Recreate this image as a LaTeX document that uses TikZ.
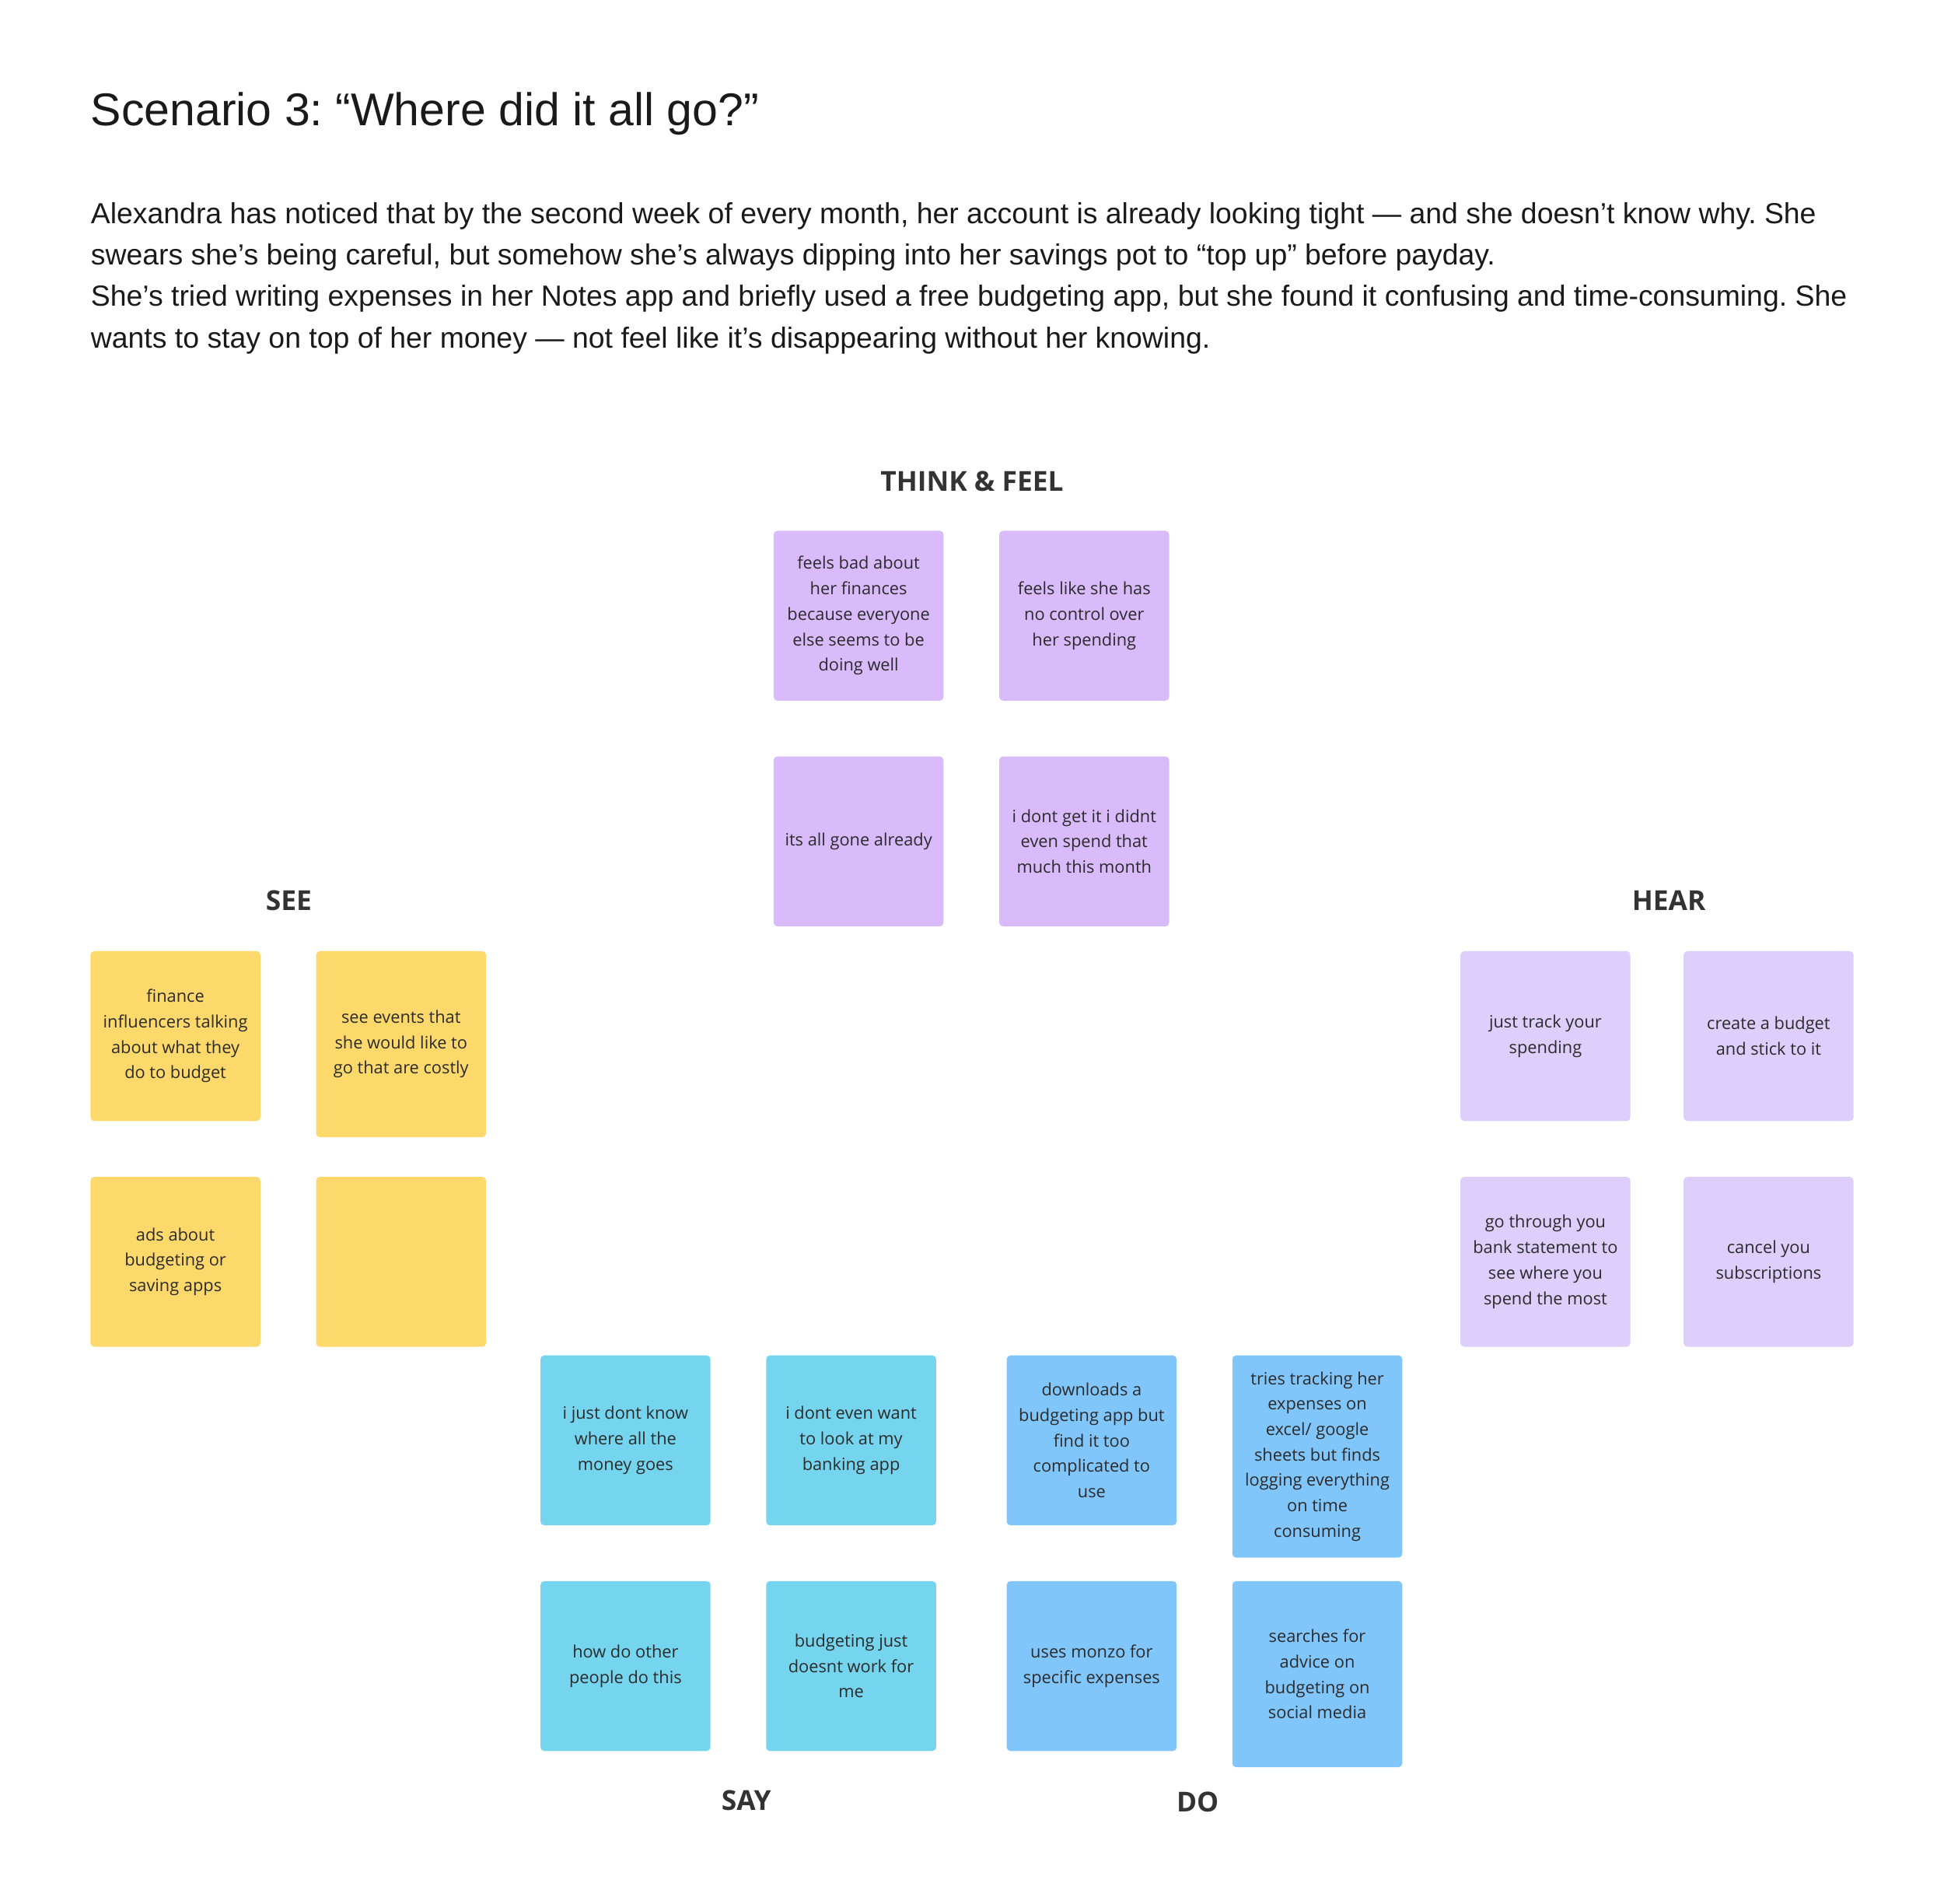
\documentclass[tikz,border=0pt]{standalone}
\usepackage{fontspec}
\setmainfont{Liberation Sans}
\newfontfamily\notefont{Open Sans}
\usetikzlibrary{positioning}
\frenchspacing
\definecolor{tfpurple}{HTML}{D9BAFB}
\definecolor{hearpurple}{HTML}{DDCEFB}
\definecolor{seeyellow}{HTML}{FDD96B}
\definecolor{saycyan}{HTML}{75D5EE}
\definecolor{doblue}{HTML}{80C6FB}
\definecolor{notetext}{HTML}{2B2B2B}
\definecolor{headgray}{HTML}{333333}
\definecolor{inktext}{HTML}{1A1A1A}

\begin{document}
\begin{tikzpicture}[
	x=0.6pt, y=-0.6pt,
	node distance=27pt,
	note/.style={rectangle, rounded corners=1.8pt, minimum width=82.2pt, minimum height=82.2pt, align=center, inner sep=0pt, outer sep=0pt, text=notetext, font=\notefont\fontsize{8.2}{12.3}\selectfont},
	tf/.style={note, fill=tfpurple},
	see/.style={note, fill=seeyellow},
	hear/.style={note, fill=hearpurple},
	say/.style={note, fill=saycyan},
	act/.style={note, fill=doblue},
	head/.style={text=headgray, font=\notefont\bfseries\fontsize{13.3}{16}\selectfont},
	]
	\useasboundingbox (0,0) rectangle (1568,1535);
	
	%Title and story
	\node[anchor=base west, inner sep=0pt, text=inktext, font=\fontsize{22.2}{26}\selectfont] (title) at (73,101) {Scenario 3: “Where did it all go?”};
	\node[anchor=base west, inner sep=0pt, text=inktext, align=left, font=\fontsize{14.07}{20.1}\selectfont] (story) at (73,280.5)
		{Alexandra has noticed that by the second week of every month, her account is already looking tight — and she doesn’t know why. She\\
		swears she’s being careful, but somehow she’s always dipping into her savings pot to “top up” before payday.\\
		She’s tried writing expenses in her Notes app and briefly used a free budgeting app, but she found it confusing and time-consuming. She\\
		wants to stay on top of her money — not feel like it’s disappearing without her knowing.};
	
	%Headings
	\node[head] (thinkfeel) at (784,388)  {THINK \& FEEL};
	\node[head] (seehead)   at (233,726)  {SEE};
	\node[head] (hearhead)  at (1346,726) {HEAR};
	\node[head] (sayhead)   at (602,1452) {SAY};
	\node[head] (dohead)    at (966,1453) {DO};
	
	%Think & feel
	\node[tf, anchor=north west] (tf1) at (624,428) {feels bad about\\her finances\\because everyone\\else seems to be\\doing well};
	\node[tf]   (tf2)   [right = of tf1]    {feels like she has\\no control over\\her spending};
	\node[tf]   (tf3)   [below = of tf1]    {its all gone already};
	\node[tf]   (tf4)   [right = of tf3]    {i dont get it i didnt\\even spend that\\much this month};
	
	%See
	\node[see, anchor=north west] (see1) at (73,767) {finance\\influencers talking\\about what they\\do to budget};
	\node[see, minimum height=90pt] (see2) [right = of see1.north east, anchor=north west] {see events that\\she would like to\\go that are costly};
	\node[see]  (see3)  [below = of see1]   {ads about\\budgeting or\\saving apps};
	\node[see]  (see4)  [right = of see3]   {};
	
	%Hear
	\node[hear, anchor=north west] (hear1) at (1178,767) {just track your\\spending};
	\node[hear] (hear2) [right = 25.8pt of hear1]  {create a budget\\and stick to it};
	\node[hear] (hear3) [below = of hear1]  {go through you\\bank statement to\\see where you\\spend the most};
	\node[hear] (hear4) [right = 25.8pt of hear3]  {cancel you\\subscriptions};
	
	%Say
	\node[say, anchor=north west] (say1) at (436,1093) {i just dont know\\where all the\\money goes};
	\node[say]  (say2)  [right = of say1]   {i dont even want\\to look at my\\banking app};
	\node[say]  (say3)  [below = of say1]   {how do other\\people do this};
	\node[say]  (say4)  [right = of say3]   {budgeting just\\doesnt work for\\me};
	
	%Do
	\node[act, anchor=north west] (do1) at (812,1093) {downloads a\\budgeting app but\\find it too\\complicated to\\use};
	\node[act, minimum height=97.8pt] (do2) [right = of do1.north east, anchor=north west] {tries tracking her\\expenses on\\excel/ google\\sheets but finds\\logging everything\\on time\\consuming};
	\node[act]  (do3)   [below = of do1]    {uses monzo for\\specific expenses};
	\node[act, minimum height=90pt] (do4) [right = of do3.north east, anchor=north west] {searches for\\advice on\\budgeting on\\social media};
\end{tikzpicture}
\end{document}
